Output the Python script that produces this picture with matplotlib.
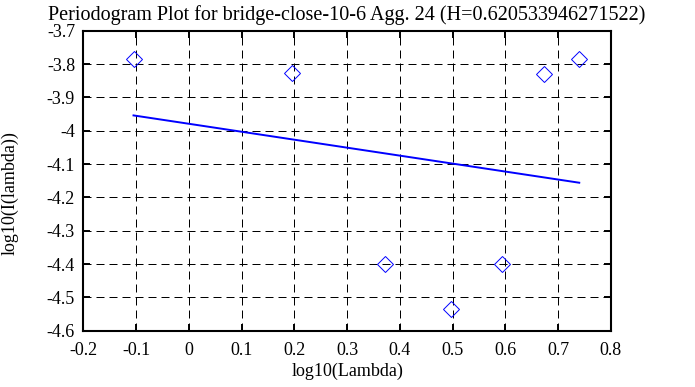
import numpy as np
import matplotlib
matplotlib.use("Agg")
import matplotlib.pyplot as plt

# Periodogram plot for bridge-close-10-6, aggregation level 24
# log10 of frequency vs log10 of periodogram value, plus the least squares fit

log_lambda = [-0.105, 0.196, 0.372, 0.497, 0.594, 0.673, 0.740]
log_I = [-3.786, -3.828, -4.400, -4.535, -4.400, -3.829, -3.786]

# fitted line end points (slope = 1 - 2H)
fit_x = [-0.105, 0.740]
fit_y = [-3.954, -4.156]

title = "Periodogram Plot for bridge-close-10-6 Agg. 24 (H=0.620533946271522)"

plt.rcParams['font.family'] = ['Liberation Serif', 'DejaVu Serif']
plt.rcParams['font.size'] = 13

fig = plt.figure(figsize=(6.95, 3.87), dpi=100)
ax = fig.add_axes([0.120, 0.1455, 0.759, 0.775])

ax.plot(log_lambda, log_I, linestyle='none', marker='D', markersize=8,
        markerfacecolor='none', markeredgecolor='blue', markeredgewidth=0.7)
ax.plot(fit_x, fit_y, color='blue', linewidth=1.4)

ax.set_xlim([-0.2, 0.8])
ax.set_ylim([-4.6, -3.7])
ax.set_xticks(np.arange(-0.2, 0.81, 0.1))
ax.set_yticks(np.arange(-4.6, -3.69, 0.1))
ax.set_xticklabels(['-0.2', '-0.1', '0', '0.1', '0.2', '0.3', '0.4', '0.5', '0.6', '0.7', '0.8'])
ax.set_yticklabels(['-4.6', '-4.5', '-4.4', '-4.3', '-4.2', '-4.1', '-4', '-3.9', '-3.8', '-3.7'])

ax.grid(True, color='black', linewidth=0.72, linestyle=(0, (8, 5)))
ax.tick_params(direction='in', length=5, width=1.4, top=True, right=True)
ax.tick_params(axis='x', pad=8)
ax.tick_params(axis='y', pad=6)
for s in ax.spines.values():
    s.set_linewidth(1.5)

ax.set_title(title, fontsize=14.5, pad=8)
ax.set_xlabel("log10(Lambda)", labelpad=3)
ax.set_ylabel("log10(I(lambda))")
ax.yaxis.set_label_coords(-0.122, 0.46)

plt.savefig("out.png", dpi=100)
